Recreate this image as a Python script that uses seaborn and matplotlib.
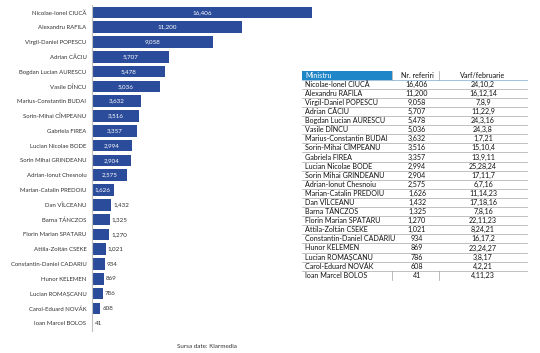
import matplotlib
matplotlib.use("Agg")
import matplotlib.pyplot as plt
import seaborn as sns
import pandas as pd

names = ["Nicolae-Ionel CIUCĂ", "Alexandru RAFILA", "Virgil-Daniel POPESCU", "Adrian CÂCIU",
         "Bogdan Lucian AURESCU", "Vasile DÎNCU", "Marius-Constantin BUDAI", "Sorin-Mihai CÎMPEANU",
         "Gabriela FIREA", "Lucian Nicolae BODE", "Sorin Mihai GRINDEANU", "Adrian-Ionut Chesnoiu",
         "Marian-Catalin PREDOIU", "Dan VÎLCEANU", "Barna TÁNCZOS", "Florin Marian SPATARU",
         "Attila-Zoltán CSEKE", "Constantin-Daniel CADARIU", "Hunor KELEMEN", "Lucian ROMAȘCANU",
         "Carol-Eduard NOVÁK", "Ioan Marcel BOLOS"]
referiri = [16406, 11200, 9058, 5707, 5478, 5036, 3632, 3516, 3357, 2994, 2904, 2575,
            1626, 1432, 1325, 1270, 1021, 934, 869, 786, 608, 41]
varf = ["24,10,2", "16,12,14", "7,8,9", "11,22,9", "24,3,16", "24,3,8", "1,7,21", "15,10,4",
        "13,9,11", "25,28,24", "17,11,7", "6,7,16", "11,14,23", "17,18,16", "7,8,16", "22,11,23",
        "8,24,21", "16,17,2", "23,24,27", "3,8,17", "4,2,21", "4,11,23"]
headers = ["Ministru", "Nr. referiri", "Varf/februarie"]
source = "Sursa date: Klarmedia"

FONT = ["Lato", "DejaVu Sans"]
plt.rcParams["font.family"] = FONT

W, H = 540, 353
fig = plt.figure(figsize=(W / 100, H / 100), dpi=100)
fig.patch.set_facecolor("white")

df = pd.DataFrame({"name": names, "val": referiri})

# bar axes (pixel geometry)
left_px, width_px = 92, 240
top_px, slot = 5.0, 14.8
height_px = slot * len(names)
ax = fig.add_axes([left_px / W, 1 - (top_px + height_px) / H, width_px / W, height_px / H])
sns.barplot(data=df, x="val", y="name", color="#2B4C9B", saturation=1, width=0.78, ax=ax, orient="h")
ax.set_xlim(0, max(referiri) * width_px / 220)
ax.set_xlabel("")
ax.set_ylabel("")
ax.set_xticks([])
for s in ["top", "right", "bottom"]:
    ax.spines[s].set_visible(False)
ax.spines["left"].set_color("#BFBFBF")
ax.spines["left"].set_linewidth(0.8)
ax.tick_params(axis="y", length=0, pad=4, labelsize=4.3, labelcolor="#333333")
ax.set_facecolor("none")

for i, v in enumerate(referiri):
    lab = f"{v:,}"
    if v >= 1500:
        ax.text(v / 2, i, lab, ha="center", va="center", color="white", fontsize=4.5)
    else:
        ax.text(v + 150, i, lab, ha="left", va="center", color="#333333", fontsize=4.5)

# table overlay in pixel coordinates
tx = fig.add_axes([0, 0, 1, 1])
tx.set_xlim(0, W)
tx.set_ylim(H, 0)
tx.axis("off")
tx.set_facecolor("none")

x0, x1, x2, x3 = 302, 392, 439, 527
c1, c2 = 417, 483
head_top, head_bot = 71, 79.5
row0, dy = 84.2, 9.1
fs = 5.1

tx.add_patch(plt.Rectangle((x0, head_top), x1 - x0, head_bot - head_top, color="#1F86C8", lw=0))
hy = (head_top + head_bot) / 2
tx.text(x0 + 3, hy, headers[0], color="white", fontsize=fs, va="center", ha="left")
tx.text(c1, hy, headers[1], color="#111111", fontsize=fs, va="center", ha="center")
tx.text(c2, hy, headers[2], color="#111111", fontsize=fs, va="center", ha="center")
tx.plot([x0, x3], [head_bot, head_bot], color="#8FB8DA", lw=0.6)
for xv in (x1, x2):
    tx.plot([xv, xv], [head_top, head_bot], color="#A0A0A0", lw=0.5)

n = len(names)
for i in range(n):
    y = row0 + i * dy
    tx.text(x0 + 3, y, names[i], color="#111111", fontsize=fs, va="center", ha="left")
    tx.text(c1, y, f"{referiri[i]:,}", color="#111111", fontsize=fs, va="center", ha="center")
    tx.text(c2, y, varf[i], color="#111111", fontsize=fs, va="center", ha="center")
    if i < n - 1:
        tx.plot([x0, x3], [y + dy / 2, y + dy / 2], color="#A6A6A6", lw=0.5)
yl = row0 + (n - 1) * dy
for xv in (x1, x2):
    tx.plot([xv, xv], [yl - dy / 2, yl + dy / 2], color="#A0A0A0", lw=0.5)

tx.text(207, 347, source, fontsize=4.5, color="#333333", ha="center", va="center")

fig.savefig("out.png", dpi=100, facecolor="white")
